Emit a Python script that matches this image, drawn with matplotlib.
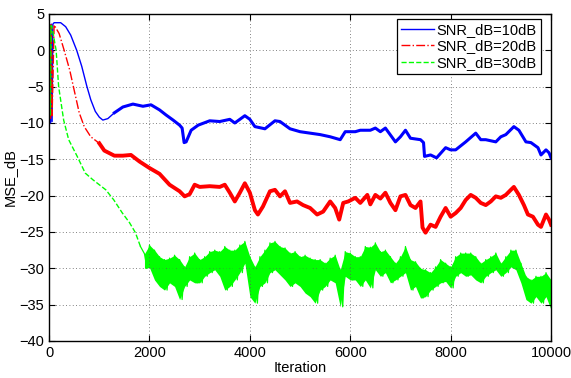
import numpy as np
import matplotlib.pyplot as plt

plt.rcParams['font.family'] = ['Liberation Sans', 'DejaVu Sans']

labels = ['SNR_dB=10dB', 'SNR_dB=20dB', 'SNR_dB=30dB']
xticks = [0, 2000, 4000, 6000, 8000, 10000]
yticks = [-40, -35, -30, -25, -20, -15, -10, -5, 0, 5]

# SNR 10 dB
it_10 = [0, 15, 30, 45, 60, 75, 100, 230, 330, 430, 550, 650, 750, 830, 920, 1000,
         1070, 1170, 1300, 1470, 1670, 1870, 2030, 2200, 2330, 2470,
         2600, 2650, 2690, 2730, 2830, 2970, 3200, 3400, 3600, 3700,
         3900, 4000, 4100, 4300, 4500, 4600, 4800, 5000, 5200, 5400,
         5600, 5800, 5900, 6100, 6200, 6400, 6500, 6600, 6700, 6900,
         7000, 7100, 7200, 7400, 7460, 7480, 7600, 7720, 7900, 8000,
         8100, 8300, 8500, 8600, 8700, 8900, 9000, 9100, 9260, 9360,
         9500, 9600, 9740, 9800, 9900, 9960, 10000]
mse_10 = [-10, 3.5, -10, 3.6, -9.8, 3.6, 3.8, 3.8, 3.25, 2.1, 0, -2.2, -4.9, -6.8, -8.4, -9.2,
          -9.6, -9.4, -8.6, -7.8, -7.4, -7.7, -7.5, -8.2, -8.9, -9.6,
          -10.3, -10.7, -12.7, -12.6, -11.0, -10.3, -9.7, -9.8, -9.5, -10.0,
          -9.0, -9.5, -10.5, -10.8, -9.7, -9.8, -10.8, -11.2, -11.4, -11.6,
          -11.9, -12.3, -11.2, -11.2, -11.0, -11.0, -10.7, -11.2, -10.7, -12.6,
          -11.9, -11.0, -12.1, -12.3, -12.7, -14.6, -14.4, -14.8, -13.4, -13.7,
          -13.7, -12.6, -11.4, -12.3, -12.3, -12.6, -11.9, -11.6, -10.5, -11.0,
          -12.6, -12.7, -13.4, -14.4, -13.7, -14.1, -14.8]

# SNR 20 dB
it_20 = [0, 15, 30, 45, 60, 100, 200, 300, 410, 500,
         600, 700, 830, 1000, 1100, 1300, 1470, 1630, 1800, 2000,
         2200, 2400, 2600, 2700, 2800, 2900, 3000, 3200, 3400, 3500,
         3600, 3700, 3800, 3900, 4000, 4100, 4160, 4260, 4400, 4500,
         4600, 4700, 4800, 4940, 5060, 5200, 5340, 5460, 5600, 5700,
         5780, 5860, 5960, 6100, 6200, 6340, 6400, 6500, 6600, 6700,
         6800, 6900, 7000, 7100, 7200, 7300, 7400, 7440, 7500, 7600,
         7700, 7800, 7900, 8000, 8100, 8200, 8300, 8400, 8500, 8600,
         8700, 8800, 8900, 9000, 9100, 9200, 9260, 9360, 9460, 9540,
         9640, 9740, 9800, 9900, 9960, 10000]
mse_20 = [-9.6, 3.5, -9.5, 3.5, -9.0, 3.5, 2.3, 0, -2.7, -5.5,
          -8.6, -10.5, -11.9, -12.8, -13.8, -14.5, -14.5, -14.4, -15.3, -16.2,
          -17.0, -18.5, -19.4, -20.1, -19.8, -18.5, -18.8, -18.7, -18.8, -18.5,
          -19.6, -20.8, -19.6, -18.3, -19.6, -22.0, -22.6, -21.5, -19.4, -19.2,
          -20.1, -19.4, -21.0, -20.8, -21.3, -21.7, -22.6, -22.2, -20.8, -21.7,
          -23.3, -21.0, -20.8, -20.3, -21.0, -19.9, -21.2, -19.9, -20.4, -19.6,
          -21.0, -22.0, -20.1, -19.9, -21.3, -21.7, -20.8, -24.4, -25.1, -24.0,
          -24.3, -22.9, -21.7, -22.9, -22.4, -21.7, -20.6, -19.9, -20.3, -21.0,
          -21.3, -20.8, -20.1, -20.3, -19.9, -19.2, -18.8, -19.9, -21.3, -22.6,
          -22.9, -24.0, -24.3, -22.6, -23.3, -24.0]

# SNR 30 dB: smooth start, then a noisy band (upper / lower edge every 100 iterations)
it_30 = [0, 10, 25, 40, 55, 140, 190, 290, 390, 560, 720, 870, 1130, 1290, 1460, 1600, 1720, 1820]
mse_30 = [-9.5, 3.4, -9.0, 3.4, 3.3, 0, -5.0, -9.6, -12.3, -14.6, -16.9, -17.8, -19.2, -20.6,
          -22.4, -23.7, -25.1, -27.0]
band_it_30 = list(range(1900, 10001, 100))
band_top_30 = [-28.0, -26.8, -27.5, -28.4, -28.8, -28.6, -28.2, -28.8, -29.8, -28.4,
               -27.9, -28.8, -28.4, -27.7, -27.5, -27.7, -27.0, -27.5, -27.5, -26.8,
               -26.3, -28.4, -29.8, -28.4, -27.5, -26.5, -26.3, -27.0, -27.2, -27.9,
               -27.7, -28.4, -28.2, -28.6, -28.8, -28.8, -29.3, -28.6, -28.2, -30.2,
               -27.7, -27.9, -28.4, -28.4, -27.0, -27.1, -26.5, -27.7, -27.5, -28.4,
               -29.3, -28.4, -27.0, -28.8, -29.1, -30.0, -30.2, -30.6, -29.8, -28.8,
               -29.3, -29.8, -28.4, -27.9, -27.9, -27.9, -28.4, -29.3, -28.8, -28.4,
               -27.9, -29.3, -28.4, -27.5, -27.5, -29.3, -31.1, -31.6, -31.1, -31.1,
               -30.6, -31.6]
band_bot_30 = [-30.0, -29.9, -31.6, -32.5, -33.0, -32.0, -32.5, -34.3, -32.5, -31.6,
               -32.0, -32.0, -31.1, -30.6, -30.2, -31.1, -33.0, -32.5, -31.6, -30.6,
               -29.3, -33.9, -34.8, -32.5, -32.0, -30.6, -30.2, -30.9, -31.6, -32.5,
               -32.0, -32.5, -33.4, -33.9, -34.8, -33.0, -32.5, -31.6, -32.0, -35.3,
               -31.1, -31.6, -31.6, -32.5, -31.6, -32.7, -30.2, -31.1, -30.6, -32.0,
               -31.6, -31.1, -30.6, -33.0, -32.5, -34.1, -33.9, -33.0, -32.5, -32.0,
               -31.8, -32.7, -31.1, -30.6, -31.1, -30.9, -31.6, -32.0, -31.1, -30.6,
               -30.2, -31.1, -30.6, -29.8, -30.2, -32.0, -34.3, -34.8, -33.9, -34.8,
               -33.9, -35.7]

fig = plt.figure(figsize=(5.71, 3.78), dpi=100)
ax = fig.add_axes([0.086, 0.098, 0.879, 0.865])

it_10 = np.array(it_10); mse_10 = np.array(mse_10)
it_20 = np.array(it_20); mse_20 = np.array(mse_20)

# blue: thin while smooth, thicker where the curve gets noisy
m = it_10 <= 1300
h1, = ax.plot(it_10[m], mse_10[m], '-', color='b', lw=1.0)
m = it_10 >= 1300
ax.plot(it_10[m], mse_10[m], '-', color='b', lw=2.2)

m = it_20 <= 1000
h2, = ax.plot(it_20[m], mse_20[m], '-.', color='r', lw=1.0)
m = it_20 >= 1000
ax.plot(it_20[m], mse_20[m], '-', color='r', lw=2.8)

green = (0, 1, 0)
h3, = ax.plot(it_30, mse_30, '--', color=green, lw=1.0)
ax.fill_between(band_it_30, band_top_30, band_bot_30, color=green, lw=0)
zx = [it_30[-1]]
zy = [mse_30[-1]]
for i, t in enumerate(band_it_30):
    zx += [t, t + 50]
    zy += [band_top_30[i], band_bot_30[i]]
ax.plot(zx, zy, '-', color=green, lw=0.9)

ax.set_xlim(0, 10000)
ax.set_ylim(-40, 5)
ax.set_xticks(xticks)
ax.set_yticks(yticks)
ax.set_yticklabels([str(v).replace('-', '\u2212') for v in yticks])
ax.tick_params(direction='in', top=True, right=True, length=4, labelsize=10.5, width=0.8)
ax.grid(True, linestyle=(0, (1, 3)), color='0.35', lw=0.6)
for s in ax.spines.values():
    s.set_linewidth(1.0)
ax.set_xlabel('Iteration', fontsize=10.5, labelpad=1)
ax.set_ylabel('MSE_dB', fontsize=10.5, labelpad=2)

leg = ax.legend([h1, h2, h3], labels, loc='upper right', bbox_to_anchor=(0.98, 0.985),
                borderaxespad=0, fancybox=False, edgecolor='k', fontsize=10.5,
                handlelength=2.2, handletextpad=0.2, labelspacing=0.15, borderpad=0.3)
leg.get_frame().set_linewidth(0.9)
leg.get_frame().set_alpha(1)

fig.savefig('out.png', dpi=100)
